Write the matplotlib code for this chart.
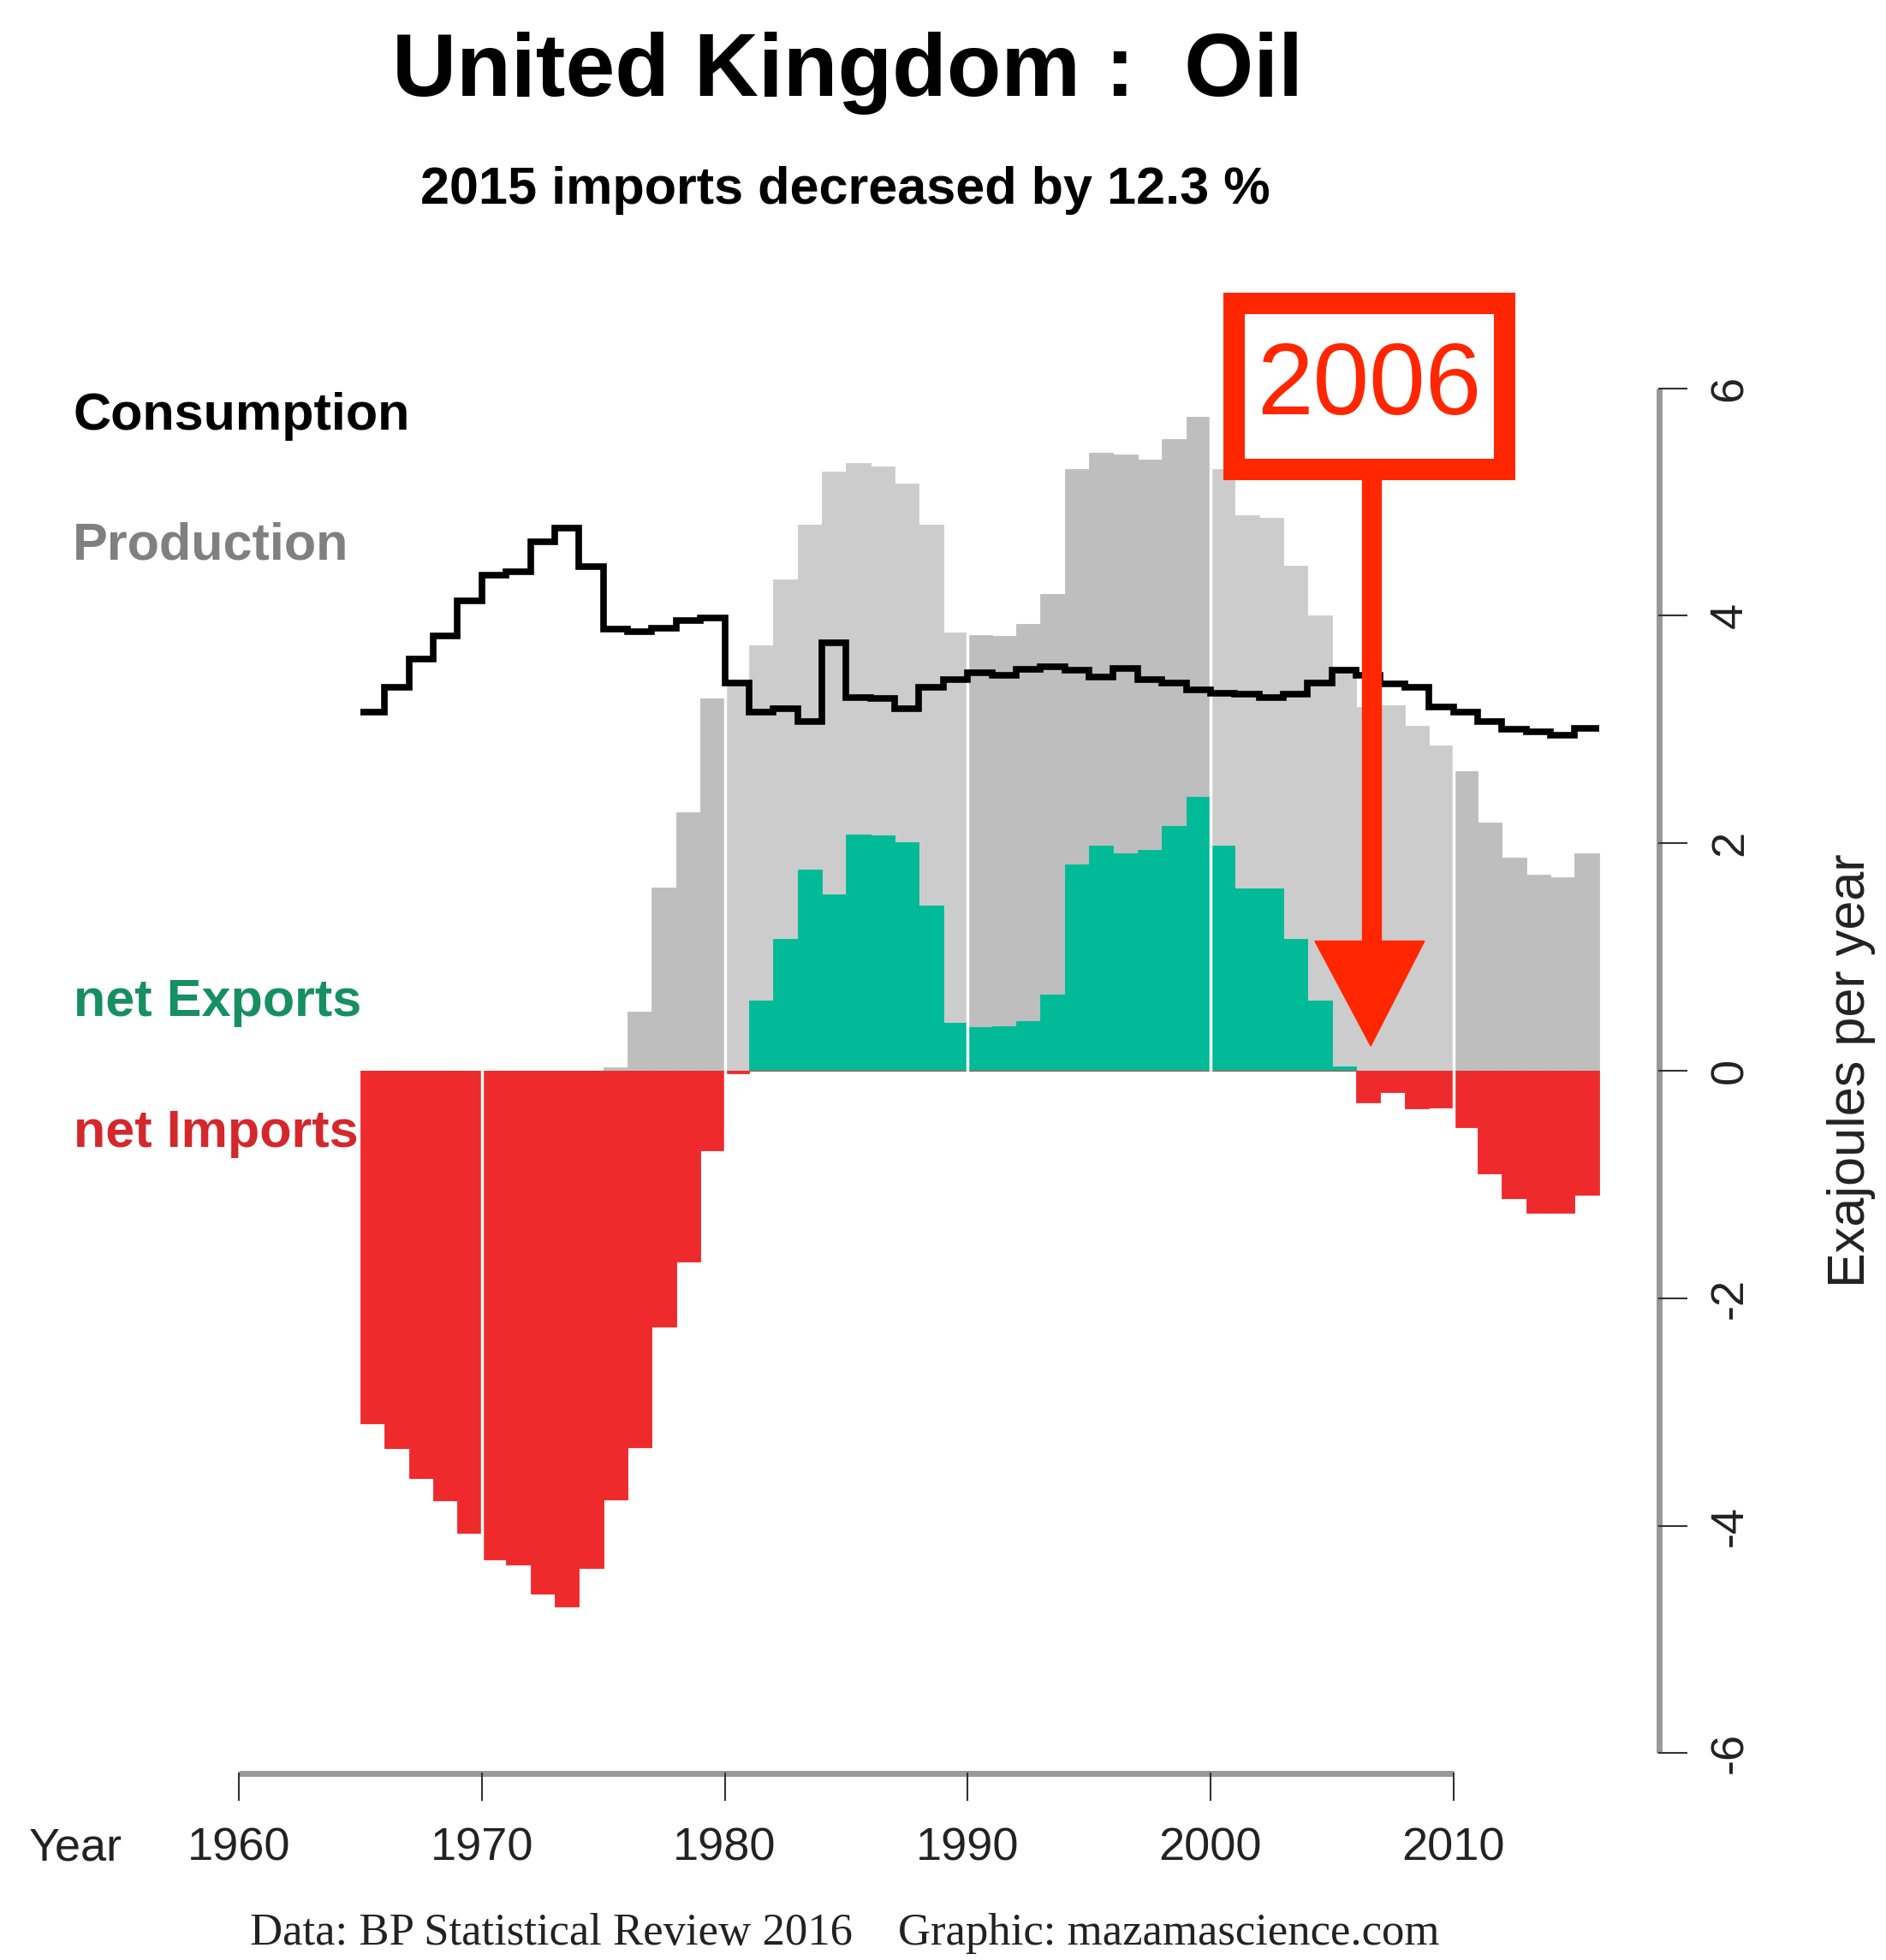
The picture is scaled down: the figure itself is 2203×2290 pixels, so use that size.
import matplotlib.pyplot as plt
from matplotlib.patches import Rectangle, Polygon
import numpy as np

plt.rcParams['font.family'] = 'Liberation Sans'

# UK oil, exajoules per year, 1965-2015
years = np.arange(1965, 2016)
consumption = [3.155, 3.37, 3.62, 3.82, 4.13, 4.36, 4.39, 4.65, 4.77, 4.43,
               3.88, 3.86, 3.89, 3.96, 3.98, 3.41, 3.155, 3.18, 3.07, 3.76,
               3.28, 3.27, 3.18, 3.37, 3.44, 3.50, 3.48, 3.53, 3.55, 3.52,
               3.46, 3.54, 3.44, 3.41, 3.35, 3.32, 3.31, 3.28, 3.31, 3.41,
               3.52, 3.48, 3.40, 3.37, 3.20, 3.155, 3.07, 3.00, 2.98, 2.95,
               3.01]
production = [0, 0, 0, 0, 0, 0, 0, 0, 0, 0,
              0.03, 0.52, 1.61, 2.27, 3.27, 3.39, 3.74, 4.32, 4.80, 5.27,
              5.34, 5.31, 5.16, 4.80, 3.85, 3.83, 3.82, 3.93, 4.19, 5.29,
              5.43, 5.42, 5.37, 5.55, 5.75, 5.29, 4.88, 4.86, 4.44, 4.00,
              3.55, 3.20, 3.21, 3.03, 2.86, 2.63, 2.18, 1.87, 1.72, 1.70,
              1.91]
net_trade = [-3.10, -3.32, -3.58, -3.78, -4.06, -4.30, -4.34, -4.60, -4.71, -4.37,
             -3.77, -3.31, -2.25, -1.68, -0.70, -0.02, 0.62, 1.16, 1.77, 1.55,
             2.08, 2.07, 2.01, 1.45, 0.42, 0.38, 0.39, 0.44, 0.67, 1.81,
             1.98, 1.91, 1.94, 2.15, 2.41, 1.98, 1.60, 1.60, 1.16, 0.62,
             0.04, -0.28, -0.19, -0.33, -0.32, -0.50, -0.90, -1.12, -1.25, -1.25,
             -1.09]

x_ticks = [1960, 1970, 1980, 1990, 2000, 2010]
y_ticks = [-6, -4, -2, 0, 2, 4, 6]

W, H = 2203, 2290
fig = plt.figure(figsize=(W / 100, H / 100), dpi=100)

# pixel layout
px_year, px_unit = 28.37, 132.9
x1960, y0 = 279.1, 1251.0
xlim = (1956, 2020)
ylim = (-6.5, 7.2)
left = x1960 + (xlim[0] - 1960) * px_year
right = x1960 + (xlim[1] - 1960) * px_year
top = y0 - ylim[1] * px_unit
bottom = y0 - ylim[0] * px_unit
ax = fig.add_axes([left / W, 1 - bottom / H, (right - left) / W, (bottom - top) / H])
ax.set_xlim(xlim)
ax.set_ylim(ylim)
ax.axis('off')

net = np.array(net_trade)
exports = np.where(net > 0, net, 0)
imports = np.where(net < 0, net, 0)
grays = ['#BEBEBE' if (y // 10) % 2 else '#CCCCCC' for y in years]

ax.bar(years, production, width=1, align='edge', color=grays, edgecolor=grays, lw=0.6, zorder=1)
ax.bar(years, exports, width=1, align='edge', color='#00BA98', edgecolor='#00BA98', lw=0.6, zorder=1)
ax.bar(years, imports, width=1, align='edge', color='#EE2A2C', edgecolor='#EE2A2C', lw=0.6, zorder=1)

for d in x_ticks[1:]:
    ax.axvline(d, color='white', lw=2.5, zorder=2)

ax.stairs(consumption, np.append(years, years[-1] + 1), baseline=None,
          color='black', lw=5.5, zorder=3)

# bottom axis
ax.plot([1960, 2010], [-6.18, -6.18], color='#999999', lw=5, clip_on=False,
        solid_capstyle='butt')
for t in x_ticks:
    ax.plot([t, t], [-6.18, -6.41], color='#333333', lw=1.5, clip_on=False)
    ax.text(t, -6.94, str(t), ha='center', va='baseline', fontsize=39, color='#222222')
fig.text(88 / W, 1 - 2173 / H, 'Year', ha='center', va='baseline', fontsize=39, color='#222222')

# right axis
ax.plot([2018.48, 2018.48], [-6, 6], color='#999999', lw=5, clip_on=False,
        solid_capstyle='butt')
for t in y_ticks:
    ax.plot([2018.48, 2019.6], [t, t], color='#333333', lw=1.5, clip_on=False)
    ax.text(2021.4, t, str(t), rotation=90, ha='center', va='center',
            fontsize=39, color='#222222')
ax.text(2026.4, 0, 'Exajoules per year', rotation=90, ha='center', va='center',
        fontsize=44, color='#222222')

# annotation
red = '#FF2600'
ax.add_patch(Rectangle((2000.94, 5.293), 11.17, 1.46, facecolor='white', edgecolor=red,
                       lw=18, clip_on=False, zorder=5))
ax.text(2006.52, 6.0, '2006', ha='center', va='center', fontsize=85, color=red, zorder=6)
ax.plot([2006.62, 2006.62], [5.29, 1.12], color=red, lw=16.8, solid_capstyle='butt', zorder=5)
ax.add_patch(Polygon([(2004.30, 1.14), (2008.81, 1.14), (2006.60, 0.218)], closed=True,
                     color=red, zorder=5))

# titles and labels
fig.text(990 / W, 1 - 112 / H, 'United Kingdom :  Oil', ha='center', va='baseline',
         fontsize=75, fontweight='bold')
fig.text(987 / W, 1 - 238 / H, '2015 imports decreased by 12.3 %', ha='center', va='baseline',
         fontsize=44, fontweight='bold')
fig.text(85 / W, 1 - 501.7 / H, 'Consumption', va='baseline', fontsize=44, fontweight='bold',
         color='black')
fig.text(85 / W, 1 - 653 / H, 'Production', va='baseline', fontsize=44, fontweight='bold',
         color='#808080')
fig.text(86 / W, 1 - 1186.7 / H, 'net Exports', va='baseline', fontsize=44, fontweight='bold',
         color='#168F62')
fig.text(86 / W, 1 - 1340 / H, 'net Imports', va='baseline', fontsize=44, fontweight='bold',
         color='#D4282C')

fig.text(987 / W, 1 - 2272 / H, 'Data: BP Statistical Review 2016    Graphic: mazamascience.com',
         ha='center', va='baseline', fontsize=38, family='Liberation Serif', color='#222222')

fig.savefig('out.png', dpi=100)
